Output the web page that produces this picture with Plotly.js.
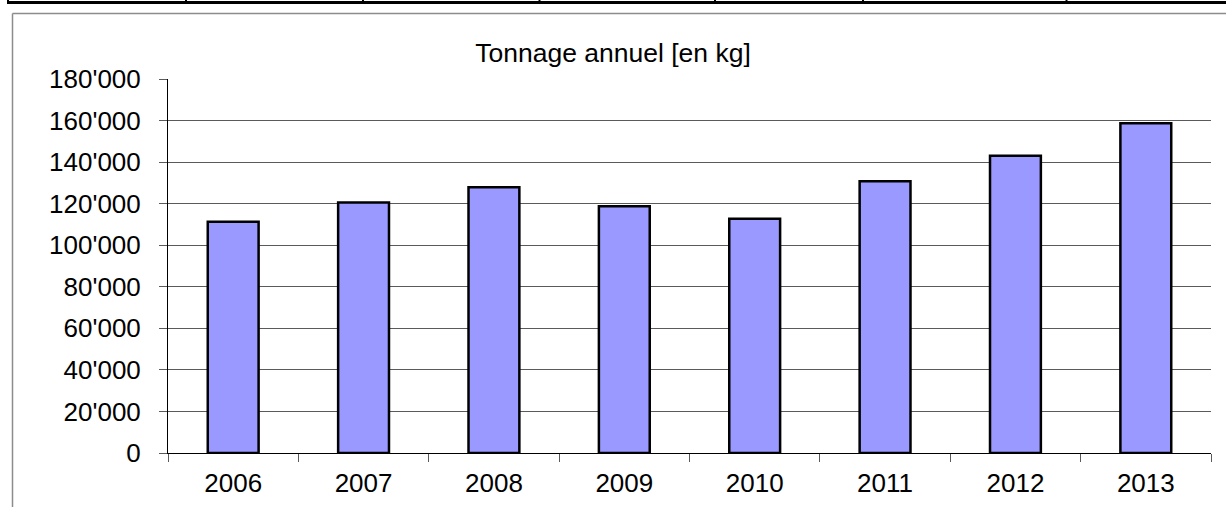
<!DOCTYPE html>
<html>
<head>
<meta charset="utf-8">
<script src="https://cdn.plot.ly/plotly-3.0.1.min.js"></script>
<style>
  html, body { margin: 0; padding: 0; background: #fff; }
  #chart { width: 1226px; height: 507px; }
</style>
</head>
<body>
<div id="chart"></div>
<script>
// ---- data ----
const years = ['2006', '2007', '2008', '2009', '2010', '2011', '2012', '2013'];
const tonnage = [111300, 120600, 127900, 118800, 112800, 130800, 143100, 158700];
const gridTickVals = [0, 20000, 40000, 60000, 80000, 100000, 120000, 140000, 160000];
const topTickVals = [180000];
const chartTitle = 'Tonnage annuel [en kg]';

// ---- layout geometry ----
const W = 1226, H = 507;
const M = { l: 168, r: 15, t: 79, b: 53.5 };
const pw = W - M.l - M.r, ph = H - M.t - M.b;
const px = x => (x - M.l) / pw;
const py = y => (H - M.b - y) / ph;

const font = { family: '"Liberation Sans", Arial, sans-serif', size: 26, color: '#000' };
const titleFont = Object.assign({}, font, { size: 26.5 });
const gridColor = '#5a5a5a';

const shapes = [];
// grey outer frame (top and left)
shapes.push({ type: 'line', xref: 'paper', yref: 'paper', x0: px(12.5), x1: px(1230), y0: py(13.5), y1: py(13.5), line: { color: '#8c8c8c', width: 1.5 } });
shapes.push({ type: 'line', xref: 'paper', yref: 'paper', x0: px(12.5), x1: px(12.5), y0: py(13.5), y1: py(515), line: { color: '#8c8c8c', width: 1.5 } });
// black rule at the very top with small dividers
shapes.push({ type: 'line', xref: 'paper', yref: 'paper', x0: px(7), x1: px(1230), y0: py(2.5), y1: py(2.5), line: { color: '#000', width: 3 } });
[8, 186, 363, 539.5, 715, 863, 1066.5].forEach(x => {
  shapes.push({ type: 'line', xref: 'paper', yref: 'paper', x0: px(x), x1: px(x), y0: py(-2), y1: py(3), line: { color: '#000', width: 2 } });
});

const fmt = v => v.toLocaleString('en-US').replace(/,/g, "'");

const data = [{
  type: 'bar',
  x: years,
  y: tonnage,
  marker: { color: '#9999ff', line: { color: '#000', width: 2.5 } },
  hoverinfo: 'x+y'
}, {
  type: 'scatter', x: [years[0]], y: [null], yaxis: 'y2', showlegend: false, hoverinfo: 'skip'
}];

const yCommon = {
  range: [0, 180000],
  tickmode: 'array',
  ticks: 'outside', ticklen: 8, tickwidth: 1, tickcolor: gridColor,
  ticklabelstandoff: 13,
  tickfont: font,
  zeroline: false,
  fixedrange: true
};

const layout = {
  width: W, height: H,
  margin: M,
  paper_bgcolor: '#fff', plot_bgcolor: '#fff',
  font: font,
  showlegend: false,
  bargap: 0.61,
  title: { text: chartTitle, font: titleFont, x: 0.5, xref: 'container', xanchor: 'center', y: 0.896, yref: 'container', yanchor: 'middle' },
  xaxis: {
    type: 'category',
    tickson: 'boundaries',
    ticks: 'outside', ticklen: 8, tickwidth: 1, tickcolor: gridColor,
    ticklabelstandoff: 7,
    showline: true, linecolor: '#000', linewidth: 1,
    showgrid: false, zeroline: false,
    tickfont: font,
    fixedrange: true
  },
  yaxis: Object.assign({}, yCommon, {
    tickvals: gridTickVals,
    ticktext: gridTickVals.map(fmt),
    showgrid: true, gridcolor: gridColor, gridwidth: 1,
    showline: true, linecolor: '#000', linewidth: 1
  }),
  yaxis2: Object.assign({}, yCommon, {
    overlaying: 'y', side: 'left',
    tickvals: topTickVals,
    ticktext: topTickVals.map(fmt),
    showgrid: false, showline: false
  }),
  shapes: shapes
};

Plotly.newPlot('chart', data, layout, { displayModeBar: false, staticPlot: true });
</script>
</body>
</html>
